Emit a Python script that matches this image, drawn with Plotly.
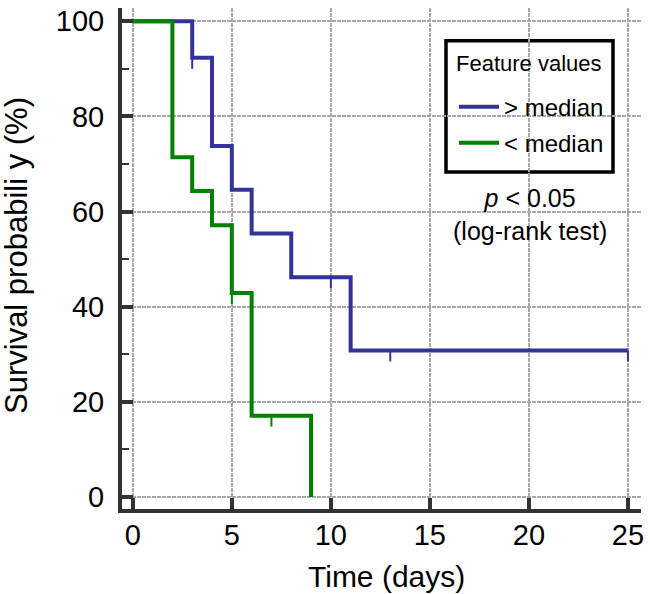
import plotly.graph_objects as go

# Kaplan-Meier step data
high_time = [0, 3, 4, 5, 6, 8, 11, 25]
high_surv = [100, 92.3, 73.8, 64.6, 55.4, 46.2, 30.8, 30.8]
high_censor_time = [3, 10, 13, 25]
high_censor_surv = [92.3, 46.2, 30.8, 30.8]

low_time = [0, 2, 3, 4, 5, 6, 9]
low_surv = [100, 71.4, 64.3, 57.1, 42.9, 17.1, 0]
low_censor_time = [5, 7]
low_censor_surv = [42.9, 17.1]

x_ticks = [0, 5, 10, 15, 20, 25]
y_ticks = [0, 20, 40, 60, 80, 100]

BLUE = "rgb(51,51,153)"
GREEN = "rgb(0,128,0)"
FONT = "Arial, Liberation Sans, sans-serif"
CENSOR_LEN = 2.3  # length of censor tick in survival units


def censor_segments(times, survs):
    xs, ys = [], []
    for t, s in zip(times, survs):
        xs += [t, t, None]
        ys += [s, s - CENSOR_LEN, None]
    return xs, ys


fig = go.Figure()

fig.add_trace(go.Scatter(x=high_time, y=high_surv, mode="lines", line_shape="hv",
                         line=dict(color=BLUE, width=4), name="> median", legendgroup="a"))
cx, cy = censor_segments(high_censor_time, high_censor_surv)
fig.add_trace(go.Scatter(x=cx, y=cy, mode="lines", line=dict(color=BLUE, width=2),
                         showlegend=False, hoverinfo="skip", legendgroup="a"))

fig.add_trace(go.Scatter(x=low_time, y=low_surv, mode="lines", line_shape="hv",
                         line=dict(color=GREEN, width=4), name="< median", legendgroup="b"))
cx, cy = censor_segments(low_censor_time, low_censor_surv)
fig.add_trace(go.Scatter(x=cx, y=cy, mode="lines", line=dict(color=GREEN, width=2),
                         showlegend=False, hoverinfo="skip", legendgroup="b"))

axis_common = dict(
    showline=True, linecolor="#333333", linewidth=4,
    ticks="inside", tickcolor="#333333", tickwidth=4, ticklen=11,
    showgrid=True, gridcolor="#a8a8a8", gridwidth=2, griddash="4px,1px",
    zeroline=False, tickfont=dict(family=FONT, size=29, color="black"),
)

fig.update_xaxes(range=[-0.545, 25.66], tickvals=x_ticks, ticktext=[str(v) for v in x_ticks],
                 ticklabelstandoff=-3, **axis_common)
fig.update_yaxes(range=[-2.51, 102.78], tickvals=y_ticks, ticktext=[str(v) for v in y_ticks],
                 ticklabelstandoff=8,
                 minor=dict(ticks="inside", ticklen=7, tickwidth=2, tickcolor="#333333",
                            dtick=10, showgrid=False),
                 **axis_common)

fig.update_layout(
    width=650, height=594,
    margin=dict(l=122, r=9, t=5, b=85),
    plot_bgcolor="white", paper_bgcolor="white",
    font=dict(family=FONT, color="black"),
    showlegend=True,
    legend=dict(
        x=(454 - 122) / 519, y=(509 - 82) / 504, xanchor="left", yanchor="top",
        bgcolor="rgba(0,0,0,0)", borderwidth=0,
        font=dict(family=FONT, size=24, color="black"),
        itemwidth=40, tracegroupgap=2,
    ),
    shapes=[
        dict(type="rect", xref="paper", yref="paper",
             x0=(446 - 122) / 519, x1=(613 - 122) / 519,
             y0=(509 - 170) / 504, y1=(509 - 38) / 504,
             line=dict(color="black", width=3.5), fillcolor="white", layer="between"),
    ],
    annotations=[
        dict(text="Feature values", xref="paper", yref="paper",
             x=(529 - 122) / 519, y=(509 - 61) / 504, xanchor="center", yanchor="middle",
             showarrow=False, font=dict(family=FONT, size=22, color="black")),
        dict(text="<i>p</i> &lt; 0.05<br>(log-rank test)", xref="paper", yref="paper",
             x=0.786, y=0.588, xanchor="center", yanchor="middle", showarrow=False,
             font=dict(family=FONT, size=25, color="black")),
        dict(text="Time (days)", xref="paper", yref="paper",
             x=0.51, y=-0.135, xanchor="center", yanchor="middle", showarrow=False,
             font=dict(family=FONT, size=30, color="black")),
        dict(text="Survival probabili y (%)", xref="paper", yref="paper",
             x=-0.2023, y=0.505, xanchor="center", yanchor="middle", showarrow=False,
             textangle=-90, font=dict(family=FONT, size=31, color="black")),
    ],
)

fig.write_html("out.html", config={"displayModeBar": False},
               post_script="document.body.style.margin='0';document.body.style.overflow='hidden';")
